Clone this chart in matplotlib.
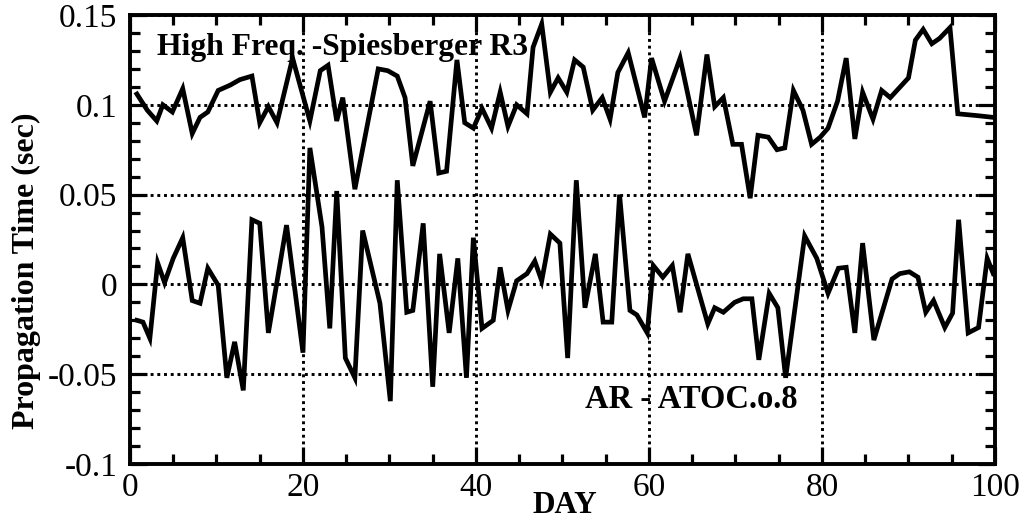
import numpy as np
import matplotlib
matplotlib.use("Agg")
import matplotlib.pyplot as plt
from matplotlib.ticker import MultipleLocator

# data (day, propagation time in sec)
hf_day = [0.8, 2.0, 3.1, 3.8, 4.9, 6.1, 7.2, 8.1, 9.0, 10.2, 11.6, 12.7, 14.1, 15.0, 16.0,
          17.0, 18.8, 20.8, 22.0, 22.9, 23.9, 24.6, 26.0, 28.7, 29.8, 30.9, 31.8, 32.7,
          34.7, 35.7, 36.6, 37.8, 38.7, 39.7, 40.7, 41.8, 42.8, 43.7, 44.7, 45.9, 46.6,
          47.6, 48.6, 49.5, 50.5, 51.4, 52.4, 53.5, 54.6, 55.5, 56.4, 57.6, 59.5, 60.3,
          61.8, 63.6, 65.5, 66.7, 67.6, 68.6, 69.7, 70.7, 71.7, 72.6, 73.8, 74.8, 75.7,
          76.7, 77.8, 78.8, 79.8, 80.7, 81.8, 82.8, 83.8, 84.7, 85.9, 86.9, 87.9, 90.0,
          90.8, 91.7, 92.7, 93.6, 94.8, 95.7, 97.9, 99.8]
hf_val = [0.106, 0.097, 0.091, 0.100, 0.096, 0.109, 0.084, 0.093, 0.096, 0.108, 0.111, 0.114,
          0.116, 0.090, 0.099, 0.090, 0.126, 0.091, 0.119, 0.122, 0.091, 0.104, 0.053, 0.120,
          0.119, 0.116, 0.104, 0.066, 0.102, 0.062, 0.063, 0.125, 0.090, 0.087, 0.098, 0.087,
          0.107, 0.088, 0.100, 0.095, 0.132, 0.145, 0.107, 0.115, 0.107, 0.125, 0.121, 0.097,
          0.104, 0.092, 0.118, 0.129, 0.093, 0.126, 0.102, 0.126, 0.083, 0.128, 0.099, 0.104,
          0.078, 0.078, 0.048, 0.083, 0.082, 0.075, 0.076, 0.108, 0.097, 0.078, 0.082, 0.087,
          0.102, 0.126, 0.081, 0.107, 0.092, 0.108, 0.104, 0.115, 0.136, 0.142, 0.134, 0.137,
          0.143, 0.095, 0.094, 0.093]

ar_day = [0.8, 1.5, 2.3, 3.2, 4.0, 5.0, 6.1, 7.2, 8.1, 9.0, 10.2, 11.2, 12.1, 13.1, 14.1,
          15.0, 16.0, 18.1, 20.0, 20.8, 22.2, 23.1, 23.9, 24.9, 26.0, 26.9, 28.9, 30.1,
          30.9, 32.0, 32.7, 33.9, 35.0, 35.8, 36.9, 37.9, 38.9, 39.7, 40.7, 42.0, 42.8,
          43.7, 44.7, 45.9, 46.8, 47.6, 48.6, 49.7, 50.6, 51.6, 52.6, 53.8, 54.7, 55.7,
          56.6, 57.8, 58.6, 59.8, 60.5, 61.6, 62.7, 63.6, 64.5, 66.8, 67.6, 68.6, 69.9,
          70.9, 71.9, 72.7, 73.9, 74.9, 75.8, 78.0, 79.4, 80.7, 81.9, 82.8, 83.8, 84.7,
          86.0, 88.1, 89.0, 90.1, 91.1, 92.0, 92.9, 94.2, 95.1, 95.8, 96.9, 98.1, 99.1, 99.8]
ar_val = [-0.020, -0.021, -0.030, 0.012, 0.001, 0.0145, 0.026, -0.009, -0.0105, 0.009, -0.0005,
          -0.052, -0.032, -0.059, 0.036, 0.034, -0.027, 0.033, -0.038, 0.076, 0.032, -0.0245,
          0.052, -0.041, -0.052, 0.030, -0.0105, -0.065, 0.058, -0.0155, -0.0145, 0.034,
          -0.057, 0.017, -0.027, 0.0145, -0.052, 0.026, -0.0245, -0.020, 0.0095, -0.0145,
          0.002, 0.006, 0.013, 0.002, 0.028, 0.023, -0.041, 0.058, -0.013, 0.017, -0.021,
          -0.021, 0.050, -0.0145, -0.017, -0.027, 0.0105, 0.004, 0.0105, -0.0155, 0.017,
          -0.022, -0.013, -0.0155, -0.010, -0.008, -0.008, -0.042, -0.005, -0.013, -0.052,
          0.027, 0.0145, -0.005, 0.009, 0.0095, -0.027, 0.023, -0.031, 0.003, 0.006, 0.007,
          0.004, -0.0155, -0.009, -0.024, -0.016, 0.036, -0.027, -0.024, 0.0145, 0.006]

y_ticks = [-0.1, -0.05, 0, 0.05, 0.1, 0.15]
y_tick_labels = ["-0.1", "-0.05", "0", "0.05", "0.1", "0.15"]

plt.rcParams['font.family'] = ['Liberation Serif', 'DejaVu Serif']

fig = plt.figure(figsize=(10.25, 5.21), dpi=100)
ax = fig.add_axes([0.1268, 0.1094, 0.8439, 0.8618])

ax.plot(hf_day, hf_val, color='black', lw=3.4, solid_joinstyle='miter')
ax.plot(ar_day, ar_val, color='black', lw=3.4, solid_joinstyle='miter')

ax.set_xlim(0, 100)
ax.set_ylim(-0.1, 0.15)
ax.xaxis.set_major_locator(MultipleLocator(20))
ax.xaxis.set_minor_locator(MultipleLocator(5))
ax.set_yticks(y_ticks)
ax.set_yticklabels(y_tick_labels)
ax.yaxis.set_minor_locator(MultipleLocator(0.01))

ax.grid(True, which='major', color='black', linestyle=(0, (1, 1.3)), lw=2.1)

for s in ax.spines.values():
    s.set_linewidth(2.8)

ax.tick_params(which='both', direction='in', top=True, right=True, width=2.3, labelsize=24)
ax.tick_params(which='major', length=12)
ax.tick_params(which='minor', length=7)
ax.tick_params(axis='x', pad=6)
ax.tick_params(axis='y', pad=9)

ax.set_xlabel("DAY", fontsize=22.5, fontweight='bold')
ax.xaxis.set_label_coords(0.503, -0.06)
ax.set_ylabel("Propagation Time (sec)", fontsize=23, fontweight='bold')
ax.yaxis.set_label_coords(-0.103, 0.43)

ax.text(3.1, 0.1275, "High Freq. -Spiesberger R3", fontsize=22.8, fontweight='bold')
ax.text(52.6, -0.069, "AR - ATOC.o.8", fontsize=23.5, fontweight='bold')

fig.savefig("out.png", dpi=100)
